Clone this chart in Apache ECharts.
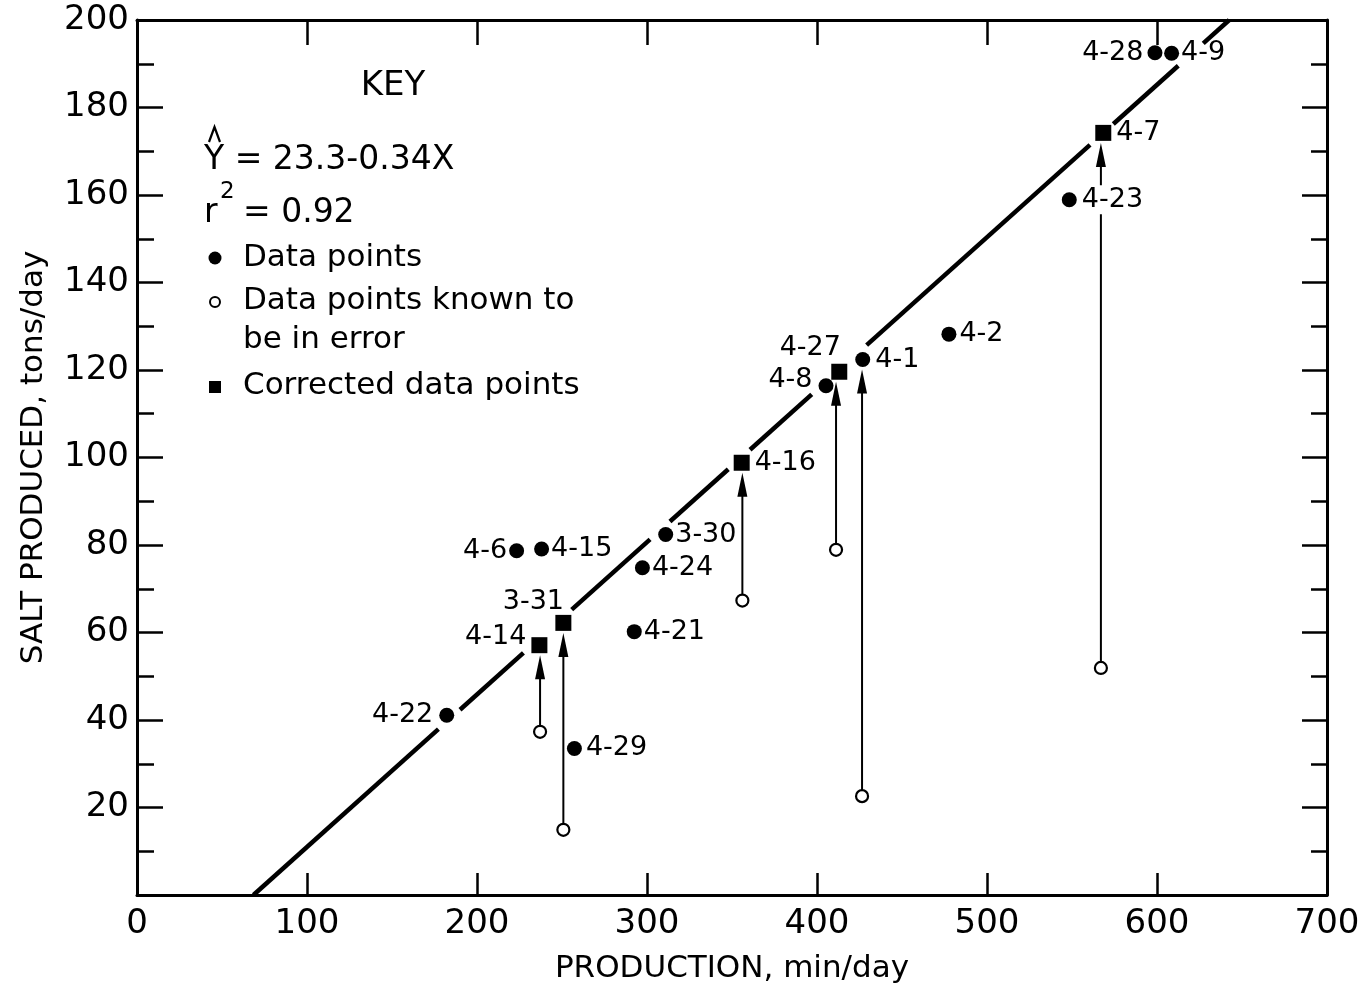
<!DOCTYPE html>
<html>
<head>
<meta charset="utf-8">
<script src="https://cdn.jsdelivr.net/npm/echarts@6/dist/echarts.min.js"></script>
<style>
  html, body { margin: 0; padding: 0; background: #fff; }
  #chart { width: 1372px; height: 987px; }
</style>
</head>
<body>
<div id="chart"></div>
<script>
// Daily records: production time (min/day) and salt produced (tons/day)
const dataDates = ['4-22', '4-6', '4-15', '4-29', '4-21', '4-24', '3-30', '4-8', '4-1', '4-2', '4-23', '4-28', '4-9'];
const dataProd  = [182.2, 223.3, 238.0, 257.3, 292.5, 297.3, 311.0, 405.3, 426.9, 477.6, 548.4, 598.8, 608.6];
const dataSalt  = [41.1, 78.7, 79.1, 33.5, 60.2, 74.8, 82.4, 116.4, 122.4, 128.2, 158.9, 192.5, 192.4];

// Corrected records
const corrDates = ['4-14', '3-31', '4-16', '4-27', '4-7'];
const corrProd  = [236.7, 250.8, 355.7, 413.1, 568.4];
const corrSalt  = [57.1, 62.2, 98.8, 119.6, 174.2];

// Records known to be in error, and the record each one was corrected to
const errProd    = [237.1, 250.8, 356.1, 411.2, 426.5, 567.0];
const errSalt    = [37.3, 14.9, 67.3, 78.9, 22.6, 51.9];
const errTargets = ['4-14', '3-31', '4-16', '4-27', '4-1', '4-7'];

// Fitted line end points and the visible pieces of it (x ranges)
const fitStart = [68.5, 0];
const fitEnd   = [642.5, 200];
const fitSegments = [
  [68.5, 177.3], [190.0, 227.3], [255.7, 301.8], [313.5, 347.8],
  [360.6, 396.9], [429.2, 560.6], [574.3, 612.5], [627.2, 642.5]
];

// Axis ranges
const xMin = 0, xMax = 700, xStep = 100;
const yMin = 0, yMax = 200, yStep = 20;

const FONT = '"DejaVu Sans", "Noto Sans", sans-serif';

// Label placement for each dated mark
const labelPlace = {
  '4-22': { position: 'left', distance: 6 },
  '4-6':  { position: 'left', distance: 2 },
  '4-15': { position: 'right', distance: 2 },
  '4-29': { position: 'right', distance: 4 },
  '4-21': { position: 'right', distance: 2 },
  '4-24': { position: 'right', distance: 2 },
  '3-30': { position: 'right', distance: 2 },
  '4-8':  { position: 'left', distance: 6, offset: [0, -6] },
  '4-1':  { position: 'right', distance: 5 },
  '4-2':  { position: 'right', distance: 3 },
  '4-23': { position: 'right', distance: 3, backgroundColor: '#fff', padding: [1, 2] },
  '4-28': { position: 'left', distance: 4 },
  '4-9':  { position: 'right', distance: 2 },
  '4-14': { position: 'left', distance: 5, offset: [0, -8] },
  '3-31': { position: 'inside', offset: [-30, -21] },
  '4-16': { position: 'right', distance: 5 },
  '4-27': { position: 'inside', offset: [-29, -24] },
  '4-7':  { position: 'right', distance: 5 }
};

function labelFor(name) {
  return Object.assign({
    show: true,
    formatter: name,
    fontSize: 27,
    fontFamily: FONT,
    color: '#000',
    opacity: 1,
    textBorderWidth: 0
  }, labelPlace[name] || {});
}

function points(names, xs, ys) {
  return names.map((n, i) => ({ name: n, value: [xs[i], ys[i]], label: labelFor(n) }));
}

function saltOf(name) {
  let i = corrDates.indexOf(name);
  if (i >= 0) return corrSalt[i];
  i = dataDates.indexOf(name);
  return dataSalt[i];
}

const arrowData = errProd.map((x, i) => [x, errSalt[i], saltOf(errTargets[i])]);

function fitY(x) {
  return fitStart[1] + (x - fitStart[0]) * (fitEnd[1] - fitStart[1]) / (fitEnd[0] - fitStart[0]);
}

const axisLineStyle = { color: '#000', width: 3 };
const tickStyle = { color: '#000', width: 2.5 };

const chart = echarts.init(document.getElementById('chart'), null, { renderer: 'canvas' });

chart.setOption({
  backgroundColor: '#fff',
  animation: false,
  grid: { left: 137, right: 45, top: 20, bottom: 92, containLabel: false, outerBoundsMode: 'none' },
  xAxis: [
    {
      type: 'value', min: xMin, max: xMax, interval: xStep, position: 'bottom',
      axisLine: { show: true, onZero: false, lineStyle: axisLineStyle },
      axisTick: { show: true, inside: true, length: 22, lineStyle: tickStyle },
      axisLabel: { fontSize: 34, fontFamily: FONT, color: '#000', margin: 12 },
      splitLine: { show: false },
      name: 'PRODUCTION, min/day', nameLocation: 'middle', nameGap: 58,
      nameTextStyle: { fontSize: 31, fontFamily: FONT, color: '#000' }
    },
    {
      type: 'value', min: xMin, max: xMax, interval: xStep, position: 'top',
      axisLine: { show: true, onZero: false, lineStyle: axisLineStyle },
      axisTick: { show: true, inside: true, length: 25, lineStyle: tickStyle },
      axisLabel: { show: false },
      splitLine: { show: false }
    }
  ],
  yAxis: [
    {
      type: 'value', min: yMin, max: yMax, interval: yStep, position: 'left',
      axisLine: { show: true, onZero: false, lineStyle: axisLineStyle },
      axisTick: { show: true, inside: true, length: 26, lineStyle: tickStyle },
      minorTick: { show: true, splitNumber: 2, length: 17, lineStyle: tickStyle },
      axisLabel: {
        fontSize: 34, fontFamily: FONT, color: '#000', margin: 8,
        formatter: v => (v === 0 ? '' : String(v))
      },
      splitLine: { show: false },
      name: 'SALT PRODUCED, tons/day', nameLocation: 'middle', nameGap: 88,
      nameTextStyle: { fontSize: 31, fontFamily: FONT, color: '#000' }
    },
    {
      type: 'value', min: yMin, max: yMax, interval: yStep, position: 'right',
      axisLine: { show: true, onZero: false, lineStyle: axisLineStyle },
      axisTick: { show: true, inside: true, length: 25, lineStyle: tickStyle },
      minorTick: { show: true, splitNumber: 2, length: 16, lineStyle: tickStyle },
      axisLabel: { show: false },
      splitLine: { show: false }
    }
  ],
  series: [
    {
      // fitted regression line, drawn in broken pieces
      type: 'custom',
      z: 2,
      data: fitSegments,
      renderItem: (params, api) => {
        const a = api.value(0), b = api.value(1);
        const p0 = api.coord([a, fitY(a)]);
        const p1 = api.coord([b, fitY(b)]);
        return {
          type: 'line',
          shape: { x1: p0[0], y1: p0[1], x2: p1[0], y2: p1[1] },
          style: { stroke: '#000', lineWidth: 4.5, lineCap: 'butt' }
        };
      }
    },
    {
      // correction arrows from erroneous record up to the corrected one
      type: 'custom',
      z: 1,
      data: arrowData,
      renderItem: (params, api) => {
        const x = api.value(0);
        const from = api.coord([x, api.value(1)]);
        const to = api.coord([x, api.value(2)]);
        const tipY = to[1] + 10;
        const headLen = 24, headHalf = 5;
        return {
          type: 'group',
          children: [
            {
              type: 'line',
              shape: { x1: from[0], y1: from[1] - 6, x2: from[0], y2: tipY + headLen - 2 },
              style: { stroke: '#000', lineWidth: 2 }
            },
            {
              type: 'polygon',
              shape: { points: [[from[0], tipY], [from[0] - headHalf, tipY + headLen], [from[0] + headHalf, tipY + headLen]] },
              style: { fill: '#000' }
            }
          ]
        };
      }
    },
    {
      name: 'Data points',
      type: 'scatter',
      z: 3,
      symbol: 'circle',
      symbolSize: 15,
      itemStyle: { color: '#000', opacity: 1 },
      data: points(dataDates, dataProd, dataSalt)
    },
    {
      name: 'Corrected data points',
      type: 'scatter',
      z: 3,
      symbol: 'rect',
      symbolSize: 16,
      itemStyle: { color: '#000', opacity: 1 },
      data: points(corrDates, corrProd, corrSalt)
    },
    {
      name: 'Data points known to be in error',
      type: 'scatter',
      z: 3,
      symbol: 'circle',
      symbolSize: 12,
      itemStyle: { color: '#fff', borderColor: '#000', borderWidth: 2.2, opacity: 1 },
      data: errProd.map((x, i) => [x, errSalt[i]])
    }
  ],
  graphic: [
    { type: 'text', x: 393, y: 86, style: { text: 'KEY', font: '34px ' + FONT, fill: '#000', align: 'center', verticalAlign: 'middle' } },
    { type: 'polyline', shape: { points: [[209, 142], [214.5, 127], [220, 142]] }, style: { stroke: '#000', lineWidth: 2.2, fill: null } },
    { type: 'text', x: 204, y: 160, style: { text: 'Y = 23.3-0.34X', font: '33px ' + FONT, fill: '#000', align: 'left', verticalAlign: 'middle' } },
    { type: 'text', x: 204, y: 213, style: { text: 'r', font: '33px ' + FONT, fill: '#000', align: 'left', verticalAlign: 'middle' } },
    { type: 'text', x: 220, y: 192, style: { text: '2', font: '23px ' + FONT, fill: '#000', align: 'left', verticalAlign: 'middle' } },
    { type: 'text', x: 243, y: 213, style: { text: '= 0.92', font: '33px ' + FONT, fill: '#000', align: 'left', verticalAlign: 'middle' } },
    { type: 'circle', shape: { cx: 215, cy: 258, r: 6.5 }, style: { fill: '#000' } },
    { type: 'text', x: 243, y: 258, style: { text: 'Data points', font: '31px ' + FONT, fill: '#000', align: 'left', verticalAlign: 'middle' } },
    { type: 'circle', shape: { cx: 215, cy: 302, r: 5 }, style: { fill: '#fff', stroke: '#000', lineWidth: 2 } },
    { type: 'text', x: 243, y: 301, style: { text: 'Data points known to', font: '31px ' + FONT, fill: '#000', align: 'left', verticalAlign: 'middle' } },
    { type: 'text', x: 243, y: 340, style: { text: 'be in error', font: '31px ' + FONT, fill: '#000', align: 'left', verticalAlign: 'middle' } },
    { type: 'rect', shape: { x: 209, y: 381, width: 12, height: 12 }, style: { fill: '#000' } },
    { type: 'text', x: 243, y: 386, style: { text: 'Corrected data points', font: '31px ' + FONT, fill: '#000', align: 'left', verticalAlign: 'middle' } }
  ]
});
</script>
</body>
</html>
